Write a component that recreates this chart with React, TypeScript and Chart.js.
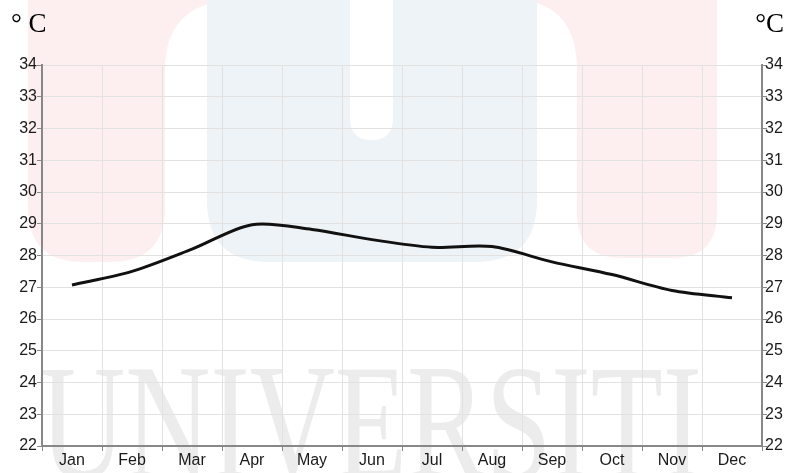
import React, { useEffect, useRef } from "react";
import { Chart, registerables } from "chart.js";

Chart.register(...registerables);

const MONTHS = ["Jan", "Feb", "Mar", "Apr", "May", "Jun", "Jul", "Aug", "Sep", "Oct", "Nov", "Dec"];
const TEMPS = [27.07, 27.5, 28.2, 28.97, 28.82, 28.5, 28.26, 28.28, 27.8, 27.4, 26.9, 26.67];
const Y_MIN = 22;
const Y_MAX = 34;
const UNIT_LEFT = "° C";
const UNIT_RIGHT = "°C";
const WATERMARK = "UNIVERSITI";

const W = 785;
const H = 473;

const watermarkPlugin = {
  id: "watermark",
  beforeDraw(chart: any) {
    const ctx = chart.ctx as CanvasRenderingContext2D;
    ctx.save();
    ctx.fillStyle = "#ffffff";
    ctx.fillRect(0, 0, W, H);

    // left pink shape
    ctx.fillStyle = "rgb(253,239,239)";
    ctx.beginPath();
    ctx.moveTo(28, 0);
    ctx.lineTo(230, 0);
    ctx.quadraticCurveTo(165, 5, 165, 70);
    ctx.lineTo(165, 207);
    ctx.quadraticCurveTo(165, 262, 110, 262);
    ctx.lineTo(83, 262);
    ctx.quadraticCurveTo(28, 262, 28, 207);
    ctx.closePath();
    ctx.fill();

    // right pink shape
    ctx.beginPath();
    ctx.moveTo(520, 0);
    ctx.lineTo(717, 0);
    ctx.lineTo(717, 213);
    ctx.quadraticCurveTo(717, 258, 672, 258);
    ctx.lineTo(622, 258);
    ctx.quadraticCurveTo(577, 258, 577, 213);
    ctx.lineTo(577, 70);
    ctx.quadraticCurveTo(577, 5, 520, 0);
    ctx.closePath();
    ctx.fill();

    // blue U
    ctx.fillStyle = "rgb(238,243,247)";
    ctx.beginPath();
    ctx.moveTo(207, 0);
    ctx.lineTo(537, 0);
    ctx.lineTo(537, 200);
    ctx.quadraticCurveTo(537, 262, 475, 262);
    ctx.lineTo(269, 262);
    ctx.quadraticCurveTo(207, 262, 207, 200);
    ctx.closePath();
    ctx.fill();
    ctx.fillStyle = "#ffffff";
    ctx.beginPath();
    ctx.moveTo(350, 0);
    ctx.lineTo(393, 0);
    ctx.lineTo(393, 118);
    ctx.quadraticCurveTo(393, 140, 371.5, 140);
    ctx.quadraticCurveTo(350, 140, 350, 118);
    ctx.closePath();
    ctx.fill();

    // text
    ctx.fillStyle = "rgb(236,236,236)";
    ctx.translate(40, 478);
    ctx.scale(1, 1.4);
    ctx.font = "118px 'Liberation Serif', 'Times New Roman', serif";
    ctx.textBaseline = "alphabetic";
    ctx.fillText(WATERMARK, 0, 0);
    ctx.restore();
  },
  afterDraw(chart: any) {
    const ctx = chart.ctx as CanvasRenderingContext2D;
    ctx.save();
    ctx.fillStyle = "#000";
    ctx.font = "27px 'Liberation Serif', 'Times New Roman', serif";
    ctx.textBaseline = "alphabetic";
    ctx.textAlign = "left";
    ctx.fillText(UNIT_LEFT, 11, 32);
    ctx.textAlign = "right";
    ctx.fillText(UNIT_RIGHT, 784, 32);
    ctx.restore();
  },
};

const tickFont = { family: "'Liberation Sans', Arial, sans-serif", size: 16 };
const GRID = "#e2e2e2";
const AXIS = "#888";
const LABEL = "#1a1a1a";

export default function App() {
  const ref = useRef<HTMLCanvasElement | null>(null);
  useEffect(() => {
    if (!ref.current) return;
    const chart = new Chart(ref.current, {
      type: "line",
      data: {
        labels: MONTHS,
        datasets: [
          {
            data: TEMPS,
            borderColor: "#111",
            borderWidth: 3,
            tension: 0.3,
            pointRadius: 0,
            fill: false,
            yAxisID: "y",
          },
        ],
      },
      options: {
        animation: false,
        responsive: false,
        events: [],
        layout: { padding: { top: 65, left: 0, right: 0, bottom: 0 } },
        plugins: { legend: { display: false }, tooltip: { enabled: false }, title: { display: false } },
        scales: {
          x: {
            type: "category",
            offset: true,
            grid: { offset: true, color: GRID, lineWidth: 1, tickLength: 5, tickColor: AXIS },
            border: { color: AXIS, width: 2 },
            ticks: { font: tickFont, color: LABEL, padding: 0, maxRotation: 0, autoSkip: false },
            afterFit: (s: any) => {
              s.height = 27;
            },
          },
          y: {
            position: "left",
            min: Y_MIN,
            max: Y_MAX,
            grid: { color: GRID, lineWidth: 1, tickLength: 5, tickColor: AXIS },
            border: { color: AXIS, width: 2 },
            ticks: { stepSize: 1, font: tickFont, color: LABEL, padding: 0 },
            afterFit: (s: any) => {
              s.width = 42;
            },
          },
          y1: {
            position: "right",
            min: Y_MIN,
            max: Y_MAX,
            grid: { drawOnChartArea: false, tickLength: 5, tickColor: AXIS },
            border: { color: AXIS, width: 2 },
            ticks: { stepSize: 1, font: tickFont, color: LABEL, padding: -2 },
            afterFit: (s: any) => {
              s.width = 23;
            },
          },
        },
      },
      plugins: [watermarkPlugin],
    } as any);
    return () => chart.destroy();
  }, []);
  return (
    <div style={{ position: "absolute", left: 0, top: 0, width: W, height: H }}>
      <canvas ref={ref} width={W} height={H} style={{ display: "block", width: W, height: H }} />
    </div>
  );
}
